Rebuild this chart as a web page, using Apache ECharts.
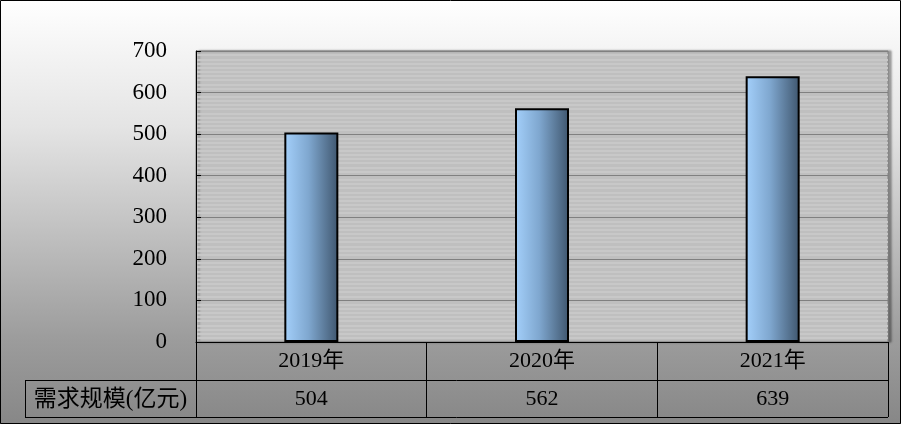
<!DOCTYPE html>
<html><head><meta charset="utf-8">
<script src="https://cdn.jsdelivr.net/npm/echarts@6/dist/echarts.min.js"></script>
<style>html,body{margin:0;padding:0;background:#fff;}#c{width:901px;height:424px;}</style>
</head><body><div id="c"></div>
<script>
const categories = ['2019年', '2020年', '2021年'];
const values = [504, 562, 639];
const seriesName = '需求规模(亿元)';
const yMin = 0, yMax = 700, yStep = 100;

const W = 901, H = 424;
const G = { left: 196, right: 13, top: 51, bottom: 82 };
const ROW = 38;
const TABLE_LEFT = 25;
const serif = '"Liberation Serif", "Times New Roman", "Noto Sans CJK SC", serif';

const chart = echarts.init(document.getElementById('c'), null, { renderer: 'canvas' });
const plotRight = W - G.right, plotBottom = H - G.bottom;
const r1 = plotBottom + ROW, r2 = plotBottom + 2 * ROW - 1;

chart.setOption({
  animation: false,
  grid: {
    left: G.left, right: G.right, top: G.top, bottom: G.bottom,
    show: true, backgroundColor: '#bfbfbf', borderColor: '#7f7f7f', borderWidth: 1,
    shadowColor: 'rgba(0,0,0,0.35)', shadowOffsetX: 3, shadowBlur: 2
  },
  xAxis: [{
    type: 'category', data: categories, position: 'bottom',
    axisLine: { lineStyle: { color: '#000', width: 1 } },
    axisTick: { show: true, interval: 0, length: 2 * ROW - 1, lineStyle: { color: '#000' } },
    axisLabel: { color: '#000', fontFamily: serif, fontSize: 22, margin: 8 },
    splitLine: { show: false }
  }, {
    type: 'category', data: categories, position: 'bottom', offset: ROW,
    axisLine: { show: false }, axisTick: { show: false },
    axisLabel: { color: '#000', fontFamily: serif, fontSize: 22, margin: 8,
      formatter: (v, i) => String(values[i]) }
  }],
  yAxis: {
    type: 'value', min: yMin, max: yMax, interval: yStep,
    axisLine: { show: true, lineStyle: { color: '#000' } },
    axisTick: { show: true, inside: true, length: 5, lineStyle: { color: '#000' } },
    axisLabel: { color: '#000', fontFamily: serif, fontSize: 23, margin: 29 },
    splitLine: { show: true, lineStyle: { color: '#808080', width: 1 } },
    minorTick: { show: false, splitNumber: 10 },
    minorSplitLine: { show: true, lineStyle: { color: '#c8c8c8', width: 2 } }
  },
  series: [{
    name: seriesName, type: 'bar', data: values, barWidth: 54, xAxisIndex: 0,
    itemStyle: {
      borderColor: '#000', borderWidth: 2,
      color: new echarts.graphic.LinearGradient(0, 0, 1, 0, [
        { offset: 0, color: '#a4d0fb' },
        { offset: 0.45, color: '#7fa7cf' },
        { offset: 1, color: '#3f566e' }
      ])
    }
  }],
  graphic: [
    { type: 'rect', z: -100, silent: true, shape: { x: 0, y: 0, width: W, height: H },
      style: { fill: new echarts.graphic.LinearGradient(0, 0, 0, 1, [
        { offset: 0, color: '#ffffff' }, { offset: 0.3, color: '#e4e4e4' },
        { offset: 0.8, color: '#9c9c9c' }, { offset: 1, color: '#878787' }]) } },
    { type: 'rect', z: 100, silent: true, shape: { x: 0.5, y: 0.5, width: W - 1, height: H - 1 },
      style: { fill: 'none', stroke: '#000', lineWidth: 1 } },
    { type: 'line', z: 50, silent: true, shape: { x1: TABLE_LEFT, y1: r1 + 0.5, x2: plotRight, y2: r1 + 0.5 },
      style: { stroke: '#000', lineWidth: 1 } },
    { type: 'line', z: 50, silent: true, shape: { x1: TABLE_LEFT, y1: r2 + 0.5, x2: plotRight, y2: r2 + 0.5 },
      style: { stroke: '#000', lineWidth: 1 } },
    { type: 'line', z: 50, silent: true, shape: { x1: TABLE_LEFT + 0.5, y1: r1, x2: TABLE_LEFT + 0.5, y2: r2 + 1 },
      style: { stroke: '#000', lineWidth: 1 } },
    { type: 'text', z: 50, silent: true, x: (TABLE_LEFT + G.left) / 2, y: (r1 + r2) / 2 + 1,
      style: { text: seriesName, fill: '#000', font: '23px ' + serif, align: 'center', verticalAlign: 'middle' } }
  ]
});
</script></body></html>
